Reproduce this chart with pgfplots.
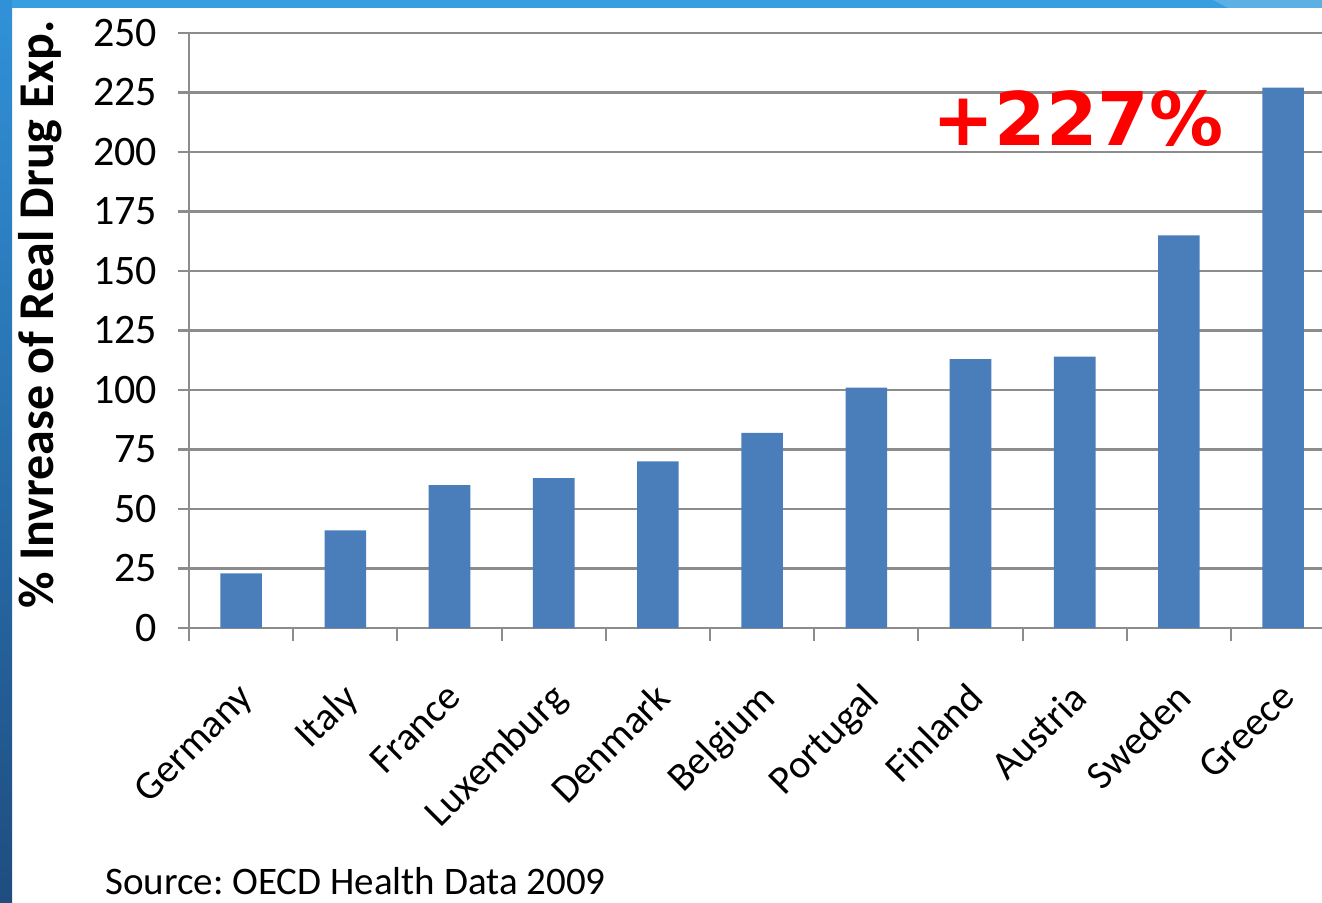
\documentclass[border=0pt]{standalone}
\usepackage{pgfplots}
\pgfplotsset{compat=1.18}
\usepackage{fontspec}
\setmainfont{Carlito}
\newfontfamily\dejavu{DejaVu Sans}
\definecolor{barblue}{HTML}{4A7EBB}
\definecolor{gridgray}{RGB}{140,140,140}
\definecolor{topblue}{HTML}{379FE0}
\definecolor{topblueL}{HTML}{5CB0E4}
\definecolor{leftblueT}{HTML}{3191D8}
\definecolor{leftblueB}{HTML}{1F4D80}
\frenchspacing
\begin{document}
\begin{tikzpicture}
\path[use as bounding box] (0,0) rectangle (661pt,451pt);
\clip (0,0) rectangle (661pt,451pt);
\fill[white] (0,0) rectangle (661pt,451pt);
\begin{axis}[
  at={(94.5pt,137pt)}, anchor=south west,
  scale only axis, width=566.5pt, height=297.5pt,
  xmin=-0.5, xmax=10.373, ymin=0, ymax=250,
  axis lines*=left,
  axis line style={draw=gridgray, line width=1.4pt},
  ybar, bar width=20.8pt,
  xtick={0,...,10},
  xticklabels={Germany,Italy,France,Luxemburg,Denmark,Belgium,Portugal,Finland,Austria,Sweden,Greece},
  minor xtick={-0.5,0.5,...,9.5},
  ytick={0,25,...,250},
  ymajorgrids,
  grid style={draw=gridgray, line width=1.4pt},
  tick align=outside,
  major tick length=5.5pt,
  minor tick length=6.5pt,
  xtick style={draw=none},
  minor x tick style={draw=gridgray, line width=1pt},
  ytick style={draw=gridgray, line width=1.4pt},
  /pgf/number format/assume math mode=true,
  yticklabel style={font=\fontsize{21}{21}\selectfont, text=black, xshift=-7pt},
  xticklabel style={font=\fontsize{20}{20}\selectfont, yshift=-16pt, xshift=-2.5pt, rotate=45, anchor=north east, text=black},
  ylabel={\bfseries\% Invrease of Real Drug Exp.},
  ylabel style={font=\fontsize{25}{25}\selectfont, at={(axis description cs:-0.12,0.527)}, anchor=base, rotate=0},
  clip=false,
]
\addplot[fill=barblue, draw=none] coordinates {
 (0,23) (1,41) (2,60) (3,63) (4,70) (5,82) (6,101) (7,113) (8,114) (9,165) (10,227)};
\node[font=\dejavu\bfseries\fontsize{37}{37}\selectfont, text=red] at (axis cs:8.03,214) {+227\%};
\end{axis}
\node[anchor=base west, inner sep=0pt, font=\fontsize{19.5}{19.5}\selectfont] at (52.5pt,4pt) {Source: OECD Health Data 2009};
\fill[topblue] (0,447pt) rectangle (661pt,451pt);
\fill[topblueL] (606.5pt,451pt) -- (661pt,451pt) -- (661pt,447pt) -- (614pt,447pt) -- cycle;
\shade[top color=leftblueT, bottom color=leftblueB] (0,0) rectangle (6pt,451pt);
\end{tikzpicture}
\end{document}
